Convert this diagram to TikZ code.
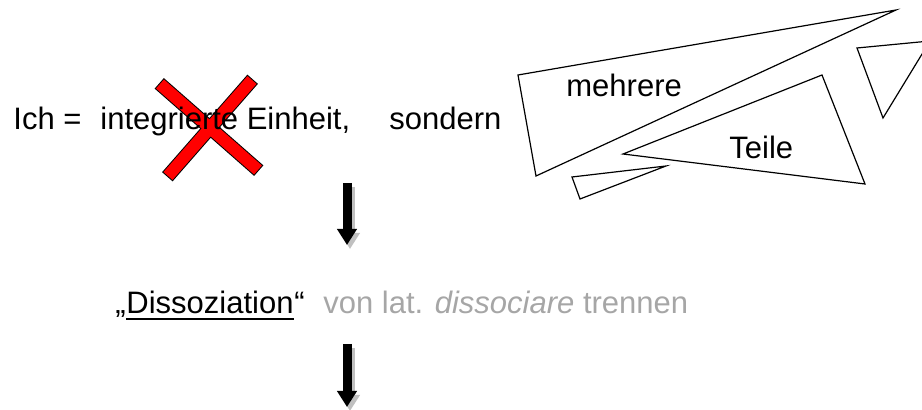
\documentclass[tikz,border=0pt]{standalone}
\usepackage{fontspec}
\setmainfont{Liberation Sans}
\usetikzlibrary{arrows.meta}
\definecolor{xred}{RGB}{255,0,0}
\definecolor{latgray}{RGB}{166,166,166}
\definecolor{shade}{RGB}{192,192,192}
\tikzset{%
  txt/.style = { anchor=base west, inner sep=0pt, font=\fontsize{15.5}{18}\selectfont },
  gtxt/.style = { txt, text=latgray },
  piece/.style = { draw=black, line width=0.6pt, line join=miter },
  xback/.style = { draw=black, line width=7pt, shorten <=-0.5pt, shorten >=-0.5pt },
  xfront/.style = { draw=xred, line width=6pt },
  bigarrow/.style = { draw=black, line width=4.5pt, -{Triangle[width=9.5pt,length=8pt]} },
  arrowshade/.style = { bigarrow, draw=shade }
}

\begin{document}
\begin{tikzpicture}[x=0.5pt,y=-0.5pt]

  \useasboundingbox (0,0) rectangle (922,410);

  % Red cross
  \draw[xback] (160,84) -- (258,170);
  \draw[xback] (252,80) -- (168,176);
  \draw[xfront] (160,84) -- (258,170);
  \draw[xfront] (252,80) -- (168,176);

  % First line
  \node[txt] (ich) at (13,130) {Ich =};
  \node[txt] (integ) at (100,130) {integrierte Einheit,};
  \node[txt] (sondern) at (389,130) {sondern};

  % Pieces
  \draw[piece] (518,75) -- (896,10) -- (536,176) -- cycle;
  \draw[piece] (623,154) -- (822,75) -- (865,184) -- cycle;
  \draw[piece] (572,177) -- (666,166) -- (580,199) -- cycle;
  \draw[piece] (857,48) -- (930,41) -- (883,118) -- cycle;
  \node[txt] (mehrere) at (566,97) {mehrere};
  \node[txt] (teile) at (729,159) {Teile};

  % Arrows
  \coordinate (a1top) at (347,183);
  \coordinate (a1tip) at (347,245);
  \coordinate (a2top) at (347,344);
  \coordinate (a2tip) at (347,407);

  \draw[arrowshade] ([shift={(3,4)}]a1top) -- ([shift={(3,4)}]a1tip);
  \draw[bigarrow] (a1top) -- (a1tip);
  \draw[arrowshade] ([shift={(3,4)}]a2top) -- ([shift={(3,4)}]a2tip);
  \draw[bigarrow] (a2top) -- (a2tip);

  % Second line
  \node[txt] (qopen) at (115,314) {„};
  \node[txt] (diss) at (126,314) {Dissoziation};
  \draw[line width=1pt] ([yshift=-2.4pt]diss.base west) -- ([yshift=-2.4pt]diss.base east);
  \node[txt] (qclose) at (diss.base east) {“};
  \node[gtxt] (lat) at (323,314) {von lat. \textit{dissociare} trennen};

\end{tikzpicture}
\end{document}
